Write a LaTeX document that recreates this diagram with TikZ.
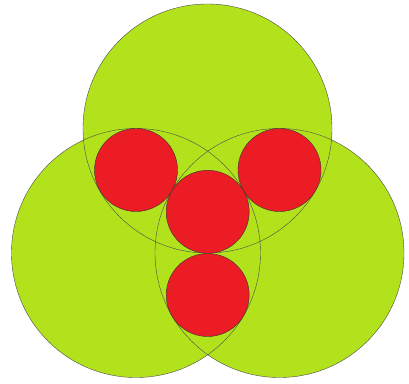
\documentclass[tikz,border=0pt]{standalone}
\usepackage{tikz}
\usetikzlibrary{calc}

\definecolor{limegreen}{RGB}{178,226,28}
\definecolor{discred}{RGB}{236,28,36}

\begin{document}
\begin{tikzpicture}[x=1pt, y=-1pt,
    rim/.style={draw=black!70, line width=0.4pt},
    bigfill/.style={fill=limegreen},
    reddisc/.style={fill=discred, draw=black!80, line width=0.4pt}]
  % Canvas
  \fill[white] (0,0) rectangle (409,383);
  \useasboundingbox (0,0) rectangle (409,383);

  % Big circles: fill first, then outlines on top
  \fill[bigfill] (207.5,128.5) circle (124.5);
  \fill[bigfill] (136,253) circle (124.5);
  \fill[bigfill] (279.5,253) circle (124.5);
  \draw[rim] (207.5,128.5) circle (124.5);
  \draw[rim] (136,253) circle (124.5);
  \draw[rim] (279.5,253) circle (124.5);

  % Small red circles
  \newcommand{\reddot}[2]{
    \filldraw[reddisc] (#1,#2) circle (41.5);
  }
  \reddot{136}{170}
  \reddot{279.5}{170}
  \reddot{207.7}{211.8}
  \reddot{207.7}{295}

\end{tikzpicture}
\end{document}
